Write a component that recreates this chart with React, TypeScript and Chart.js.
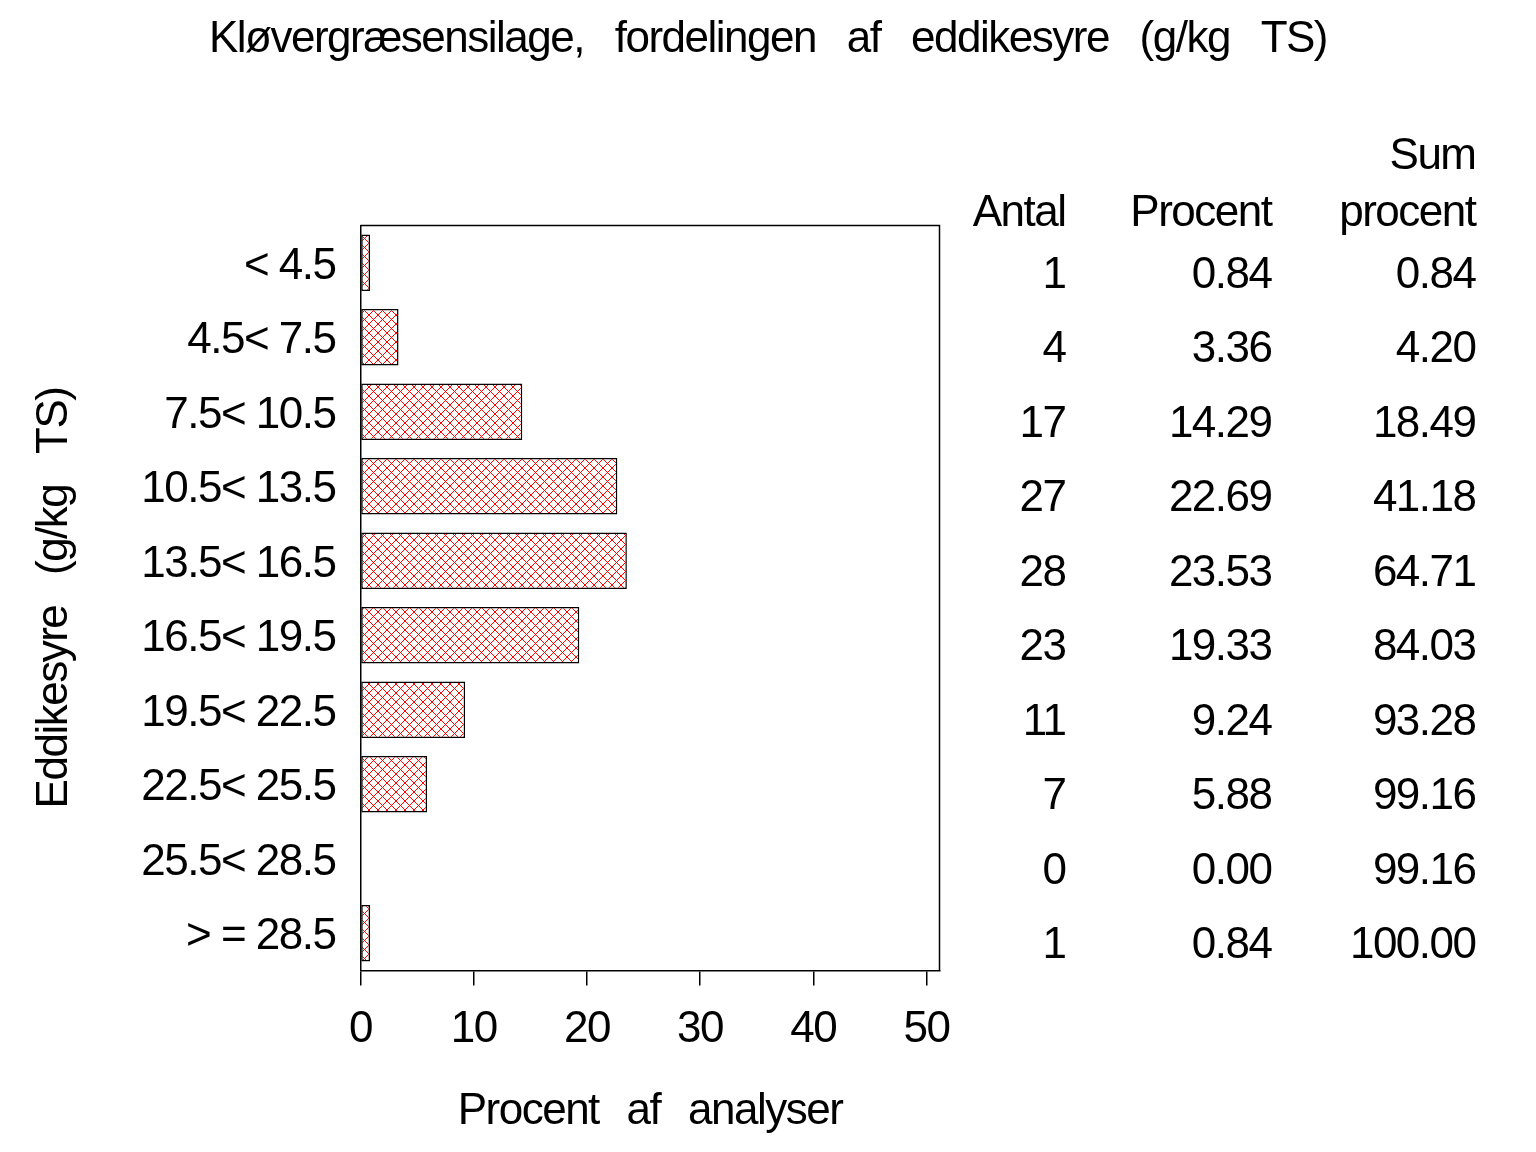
import React, { useEffect, useRef } from 'react';
import { Chart, registerables } from 'chart.js';

Chart.register(...registerables);

const TITLE = 'Kløvergræsensilage, fordelingen af eddikesyre (g/kg TS)';
const Y_TITLE = 'Eddikesyre (g/kg TS)';
const X_TITLE = 'Procent af analyser';

const CATEGORIES = [
  '< 4.5',
  '4.5< 7.5',
  '7.5< 10.5',
  '10.5< 13.5',
  '13.5< 16.5',
  '16.5< 19.5',
  '19.5< 22.5',
  '22.5< 25.5',
  '25.5< 28.5',
  '> = 28.5',
];
const PERCENT = [0.84, 3.36, 14.29, 22.69, 23.53, 19.33, 9.24, 5.88, 0.0, 0.84];
const COUNTS = [1, 4, 17, 27, 28, 23, 11, 7, 0, 1];
const CUM_PERCENT = [0.84, 4.2, 18.49, 41.18, 64.71, 84.03, 93.28, 99.16, 99.16, 100.0];
const X_TICKS = [0, 10, 20, 30, 40, 50];
const X_MAX = 51.15;
const HEADER_TOP = ['', '', 'Sum'];
const HEADER_BOTTOM = ['Antal', 'Procent', 'procent'];

const FONT = "'Liberation Sans', Arial, sans-serif";
const FONT_SIZE = 44;
const LETTER_SPACING = '-1.5px';
const W = 1536;
const H = 1152;
const AREA = { left: 360.5, right: 939.5, top: 225.5, bottom: 970.5 };
const COL_RIGHT = [1065.5, 1271.5, 1475.5];

function makePattern(): CanvasPattern | string {
  const c = document.createElement('canvas');
  c.width = 9;
  c.height = 9;
  const g = c.getContext('2d');
  if (!g) return '#ffcccc';
  g.fillStyle = '#ffffff';
  g.fillRect(0, 0, 9, 9);
  g.fillStyle = '#ff0000';
  for (let i = 0; i < 9; i++) {
    g.fillRect(i, i, 1, 1);
    g.fillRect(8 - i, i, 1, 1);
  }
  const p = g.createPattern(c, 'repeat');
  return p || '#ffcccc';
}

const textPlugin = {
  id: 'textPlugin',
  beforeDraw(chart: any) {
    const ctx = chart.ctx as any;
    ctx.letterSpacing = LETTER_SPACING;
  },
  afterDraw(chart: any) {
    const ctx = chart.ctx as any;
    const { left, right, top, bottom } = chart.chartArea;
    ctx.save();
    // frame top and right
    ctx.strokeStyle = '#000';
    ctx.lineWidth = 1.5;
    ctx.beginPath();
    ctx.moveTo(left, top);
    ctx.lineTo(right, top);
    ctx.lineTo(right, bottom);
    ctx.stroke();

    ctx.fillStyle = '#000';
    ctx.font = `${FONT_SIZE}px ${FONT}`;
    ctx.letterSpacing = LETTER_SPACING;

    // main title
    ctx.wordSpacing = '20px';
    ctx.textAlign = 'center';
    ctx.textBaseline = 'middle';
    ctx.fillText(TITLE, W / 2, 40);

    // x title
    ctx.wordSpacing = '17px';
    ctx.fillText(X_TITLE, (left + right) / 2, 1112);

    // y title
    ctx.save();
    ctx.translate(55, (top + bottom) / 2);
    ctx.rotate(-Math.PI / 2);
    ctx.wordSpacing = '20px';
    ctx.fillText(Y_TITLE, 0, 0);
    ctx.restore();

    // table
    ctx.wordSpacing = '0px';
    ctx.textAlign = 'right';
    ctx.textBaseline = 'alphabetic';
    for (let c = 0; c < 3; c++) {
      if (HEADER_TOP[c]) ctx.fillText(HEADER_TOP[c], COL_RIGHT[c], 169);
      ctx.fillText(HEADER_BOTTOM[c], COL_RIGHT[c], 226);
    }
    ctx.textBaseline = 'middle';
    const yScale = chart.scales.y;
    for (let i = 0; i < CATEGORIES.length; i++) {
      const y = yScale.getPixelForValue(i) + 13;
      ctx.fillText(String(COUNTS[i]), COL_RIGHT[0], y);
      ctx.fillText(PERCENT[i].toFixed(2), COL_RIGHT[1], y);
      ctx.fillText(CUM_PERCENT[i].toFixed(2), COL_RIGHT[2], y);
    }
    ctx.restore();
  },
};

export default function App() {
  const ref = useRef<HTMLCanvasElement | null>(null);

  useEffect(() => {
    const canvas = ref.current;
    if (!canvas) return;
    const pattern = makePattern();
    const chart = new Chart(canvas, {
      type: 'bar',
      data: {
        labels: CATEGORIES,
        datasets: [
          {
            data: PERCENT,
            backgroundColor: pattern as any,
            borderColor: '#000000',
            borderWidth: 1.5,
            borderSkipped: false,
            barPercentage: 0.757,
            categoryPercentage: 1,
          },
        ],
      },
      options: {
        indexAxis: 'y',
        responsive: false,
        animation: false,
        devicePixelRatio: 1,
        layout: {
          padding: { left: 0, top: AREA.top, right: W - AREA.right, bottom: 0 },
        },
        plugins: {
          legend: { display: false },
          tooltip: { enabled: false },
          title: { display: false },
        },
        scales: {
          y: {
            type: 'category',
            offset: true,
            grid: { display: false, drawTicks: false },
            border: { display: true, color: '#000', width: 1.5 },
            ticks: {
              color: '#000',
              font: { family: FONT, size: FONT_SIZE },
              padding: 25,
              labelOffset: 4,
            },
            afterFit: (s: any) => {
              s.width = AREA.left;
            },
          },
          x: {
            type: 'linear',
            min: 0,
            max: X_MAX,
            grid: {
              drawOnChartArea: false,
              drawTicks: true,
              tickLength: 15,
              color: '#000',
              lineWidth: 1.5,
            },
            border: { display: true, color: '#000', width: 1.5 },
            ticks: {
              color: '#000',
              font: { family: FONT, size: FONT_SIZE },
              padding: 18,
              includeBounds: false,
              maxRotation: 0,
            },
            afterBuildTicks: (s: any) => {
              s.ticks = X_TICKS.map((v) => ({ value: v }));
            },
            afterFit: (s: any) => {
              s.height = H - AREA.bottom;
            },
          },
        },
      } as any,
      plugins: [textPlugin],
    });
    return () => chart.destroy();
  }, []);

  return (
    <div style={{ position: 'absolute', left: 0, top: 0, width: W, height: H, background: '#fff' }}>
      <canvas ref={ref} width={W} height={H} style={{ display: 'block' }} />
    </div>
  );
}
